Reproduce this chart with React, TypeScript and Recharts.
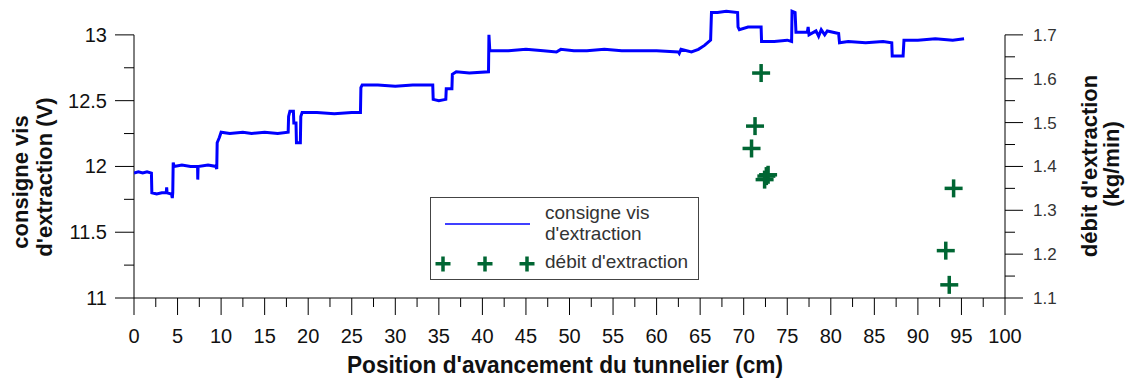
import { ComposedChart, Line, Scatter, XAxis, YAxis, Label, ReferenceLine } from "recharts";

const FONT = "Arial, 'Liberation Sans', sans-serif";
const BLUE = "#0000ff";
const GREEN = "#006633";

// consigne vis d'extraction (V) along the tunnel position (cm)
const consigne: [number, number][] = [
  [0, 11.95], [0.5, 11.96], [1.0, 11.95], [1.5, 11.96], [2.0, 11.95],
  [2.05, 11.8], [2.6, 11.79], [3.2, 11.8], [3.7, 11.8], [3.75, 11.84], [3.8, 11.8], [4.3, 11.79], [4.4, 11.76], [4.45, 11.8],
  [4.5, 12.03], [4.6, 12.0], [5.5, 12.01], [6.5, 12.0], [7.3, 12.0], [7.32, 11.9], [7.36, 12.0], [8.5, 12.01], [9.4, 12.0], [9.5, 11.98],
  [9.55, 12.18], [9.8, 12.22], [10.0, 12.26], [11, 12.25], [12.5, 12.26], [13.5, 12.25], [15, 12.26], [16.5, 12.25], [17.7, 12.26],
  [17.75, 12.38], [17.9, 12.42], [18.3, 12.42], [18.35, 12.33], [18.6, 12.33], [18.65, 12.18], [19.1, 12.18],
  [19.15, 12.38], [19.3, 12.41], [21, 12.41], [23, 12.4], [25, 12.41], [26.0, 12.41],
  [26.05, 12.6], [26.2, 12.62], [28, 12.62], [30, 12.61], [32, 12.62], [34.3, 12.62],
  [34.35, 12.51], [35.0, 12.5], [35.8, 12.51],
  [35.85, 12.59], [36.5, 12.59],
  [36.55, 12.7], [37.0, 12.72], [38.5, 12.71], [40.7, 12.72],
  [40.75, 13.0], [40.85, 12.88], [43, 12.88], [45, 12.89], [47, 12.88], [48.5, 12.87], [49, 12.89], [50.5, 12.88],
  [52, 12.88], [54, 12.89], [56, 12.88], [58, 12.88], [60, 12.88], [62.5, 12.87], [62.6, 12.86], [62.8, 12.89],
  [64, 12.87], [64.8, 12.89], [65.5, 12.92], [66.2, 12.96],
  [66.3, 13.17], [67, 13.17], [68, 13.18], [69.3, 13.17],
  [69.35, 13.06], [69.5, 13.04], [70.5, 13.06], [72.0, 13.06],
  [72.05, 12.95], [73.5, 12.95], [75.0, 12.96], [75.5, 12.95],
  [75.55, 13.18], [75.9, 13.17], [76.0, 13.02], [77.3, 13.02], [77.4, 13.06], [77.5, 13.0], [78.3, 13.03],
  [78.6, 12.99], [78.9, 13.04], [79.3, 13.0], [79.6, 13.03], [80.9, 13.01],
  [81.0, 12.94], [82, 12.95], [84, 12.94], [86, 12.95], [87.0, 12.94],
  [87.05, 12.84], [88.3, 12.84],
  [88.4, 12.96], [90, 12.96], [92, 12.97], [94, 12.96], [95.3, 12.97],
];

// débit d'extraction (kg/min)
const debitPos = [72.0, 71.3, 70.9, 72.6, 72.8, 72.4, 94.1, 93.2, 93.6];
const debitKg = [1.613, 1.492, 1.441, 1.378, 1.381, 1.37, 1.35, 1.208, 1.13];

const xTicks = [0, 2.5, 5, 7.5, 10, 12.5, 15, 17.5, 20, 22.5, 25, 27.5, 30, 32.5, 35, 37.5, 40, 42.5, 45, 47.5,
  50, 52.5, 55, 57.5, 60, 62.5, 65, 67.5, 70, 72.5, 75, 77.5, 80, 82.5, 85, 87.5, 90, 92.5, 95, 97.5, 100];
const leftTicks = [11, 11.25, 11.5, 11.75, 12, 12.25, 12.5, 12.75, 13];
const rightTicks = [1.1, 1.15, 1.2, 1.25, 1.3, 1.35, 1.4, 1.45, 1.5, 1.55, 1.6, 1.65, 1.7];

const consigneData = consigne.map(([x, v]) => ({ x, v }));
const debitData = debitPos.map((x, i) => ({ x, d: debitKg[i] }));

const XTick = ({ x, y, payload }: any) => {
  const v = payload.value;
  const major = v % 5 === 0;
  return (
    <g>
      <line x1={x} y1={y} x2={x} y2={y + (major ? 17 : 9)} stroke="#000" />
      {major && (
        <text x={x} y={y + 45} textAnchor="middle" fontSize={20} fontFamily={FONT} fill="#111">
          {v}
        </text>
      )}
    </g>
  );
};

const LeftTick = ({ x, y, payload }: any) => {
  const v = payload.value;
  const major = Math.abs(v * 2 - Math.round(v * 2)) < 1e-6;
  return (
    <g>
      <line x1={x} y1={y} x2={x - (major ? 19 : 10)} y2={y} stroke="#000" />
      {major && (
        <text x={x - 27} y={y + 7} textAnchor="end" fontSize={20} fontFamily={FONT} fill="#111">
          {v}
        </text>
      )}
    </g>
  );
};

const RightTick = ({ x, y, payload }: any) => {
  const v = payload.value;
  const major = Math.abs(v * 10 - Math.round(v * 10)) < 1e-6;
  return (
    <g>
      <line x1={x} y1={y} x2={x + (major ? 18 : 10)} y2={y} stroke="#000" />
      {major && (
        <text x={x + 28} y={y + 6} textAnchor="start" fontSize={17} fontFamily={FONT} fill="#333">
          {v.toFixed(1)}
        </text>
      )}
    </g>
  );
};

const PlusShape = ({ cx, cy }: any) => (
  <g fill={GREEN}>
    <rect x={cx - 9} y={cy - 1.75} width={18} height={3.5} />
    <rect x={cx - 1.75} y={cy - 9} width={3.5} height={18} />
  </g>
);

const titleStyle = { fontFamily: FONT, fontWeight: 700, fill: "#111" } as const;

const XTitle = () => (
  <text x={565} y={373} textAnchor="middle" fontSize={24} textLength={436} lengthAdjust="spacingAndGlyphs" {...titleStyle}>
    Position d'avancement du tunnelier (cm)
  </text>
);

const LeftTitle = () => (
  <g>
    <text transform="translate(28,182) rotate(-90)" textAnchor="middle" fontSize={22} {...titleStyle}>
      consigne vis
    </text>
    <text transform="translate(52,177) rotate(-90)" textAnchor="middle" fontSize={22} {...titleStyle}>
      d'extraction (V)
    </text>
  </g>
);

const RightTitle = () => (
  <g>
    <text transform="translate(1097,166) rotate(-90)" textAnchor="middle" fontSize={22} {...titleStyle}>
      débit d'extraction
    </text>
    <text transform="translate(1119,164) rotate(-90)" textAnchor="middle" fontSize={22} {...titleStyle}>
      (kg/min)
    </text>
  </g>
);

function LegendBox() {
  return (
    <div
      style={{
        position: "absolute",
        left: 430,
        top: 197,
        width: 269,
        height: 83,
        border: "1px solid #444",
        boxSizing: "border-box",
        background: "#fff",
      }}
    >
      <svg width={267} height={81} style={{ display: "block" }}>
        <line x1={14} y1={26} x2={99} y2={26} stroke={BLUE} strokeWidth={1.5} />
        {[12, 54, 96].map((cx) => (
          <g key={cx} fill={GREEN}>
            <rect x={cx - 7.5} y={64} width={15} height={3.5} />
            <rect x={cx - 1.75} y={58.5} width={3.5} height={15} />
          </g>
        ))}
        <text x={114} y={21} fontSize={19} fontFamily={FONT} fill="#333">consigne vis</text>
        <text x={114} y={42} fontSize={19} fontFamily={FONT} fill="#333">d'extraction</text>
        <text x={114} y={70} fontSize={19} fontFamily={FONT} fill="#333">débit d'extraction</text>
      </svg>
    </div>
  );
}

export default function App() {
  return (
    <div style={{ position: "absolute", left: 0, top: 0, width: 1129, height: 383, background: "#fff" }}>
      <ComposedChart width={1129} height={383} margin={{ top: 2, right: 0, bottom: 0, left: 0 }}>
        <XAxis
          dataKey="x"
          type="number"
          domain={[0, 100]}
          ticks={xTicks}
          interval={0}
          tick={<XTick />}
          tickLine={false}
          tickSize={0}
          tickMargin={0}
          height={85}
          stroke="#000"
          allowDataOverflow
        >
          <Label content={() => <XTitle />} />
        </XAxis>
        <YAxis
          yAxisId="left"
          orientation="left"
          type="number"
          domain={[11, 13.25]}
          ticks={leftTicks}
          interval={0}
          tick={<LeftTick />}
          tickLine={false}
          axisLine={false}
          tickSize={0}
          tickMargin={0}
          width={134}
        >
          <Label content={() => <LeftTitle />} />
        </YAxis>
        <YAxis
          yAxisId="right"
          orientation="right"
          type="number"
          domain={[1.1, 1.775]}
          ticks={rightTicks}
          interval={0}
          tick={<RightTick />}
          tickLine={false}
          axisLine={false}
          tickSize={0}
          tickMargin={0}
          width={124}
        >
          <Label content={() => <RightTitle />} />
        </YAxis>
        <ReferenceLine
          yAxisId="left"
          segment={[{ x: 0, y: 11 }, { x: 0, y: 13 }]}
          stroke="#000"
          strokeWidth={1}
          ifOverflow="visible"
        />
        <ReferenceLine
          yAxisId="right"
          segment={[{ x: 100, y: 1.1 }, { x: 100, y: 1.7 }]}
          stroke="#000"
          strokeWidth={1}
          ifOverflow="visible"
        />
        <Line
          yAxisId="left"
          data={consigneData}
          dataKey="v"
          type="linear"
          stroke={BLUE}
          strokeWidth={3}
          dot={false}
          isAnimationActive={false}
        />
        <Scatter
          yAxisId="right"
          data={debitData}
          dataKey="d"
          shape={<PlusShape />}
          isAnimationActive={false}
        />
      </ComposedChart>
      <LegendBox />
    </div>
  );
}
